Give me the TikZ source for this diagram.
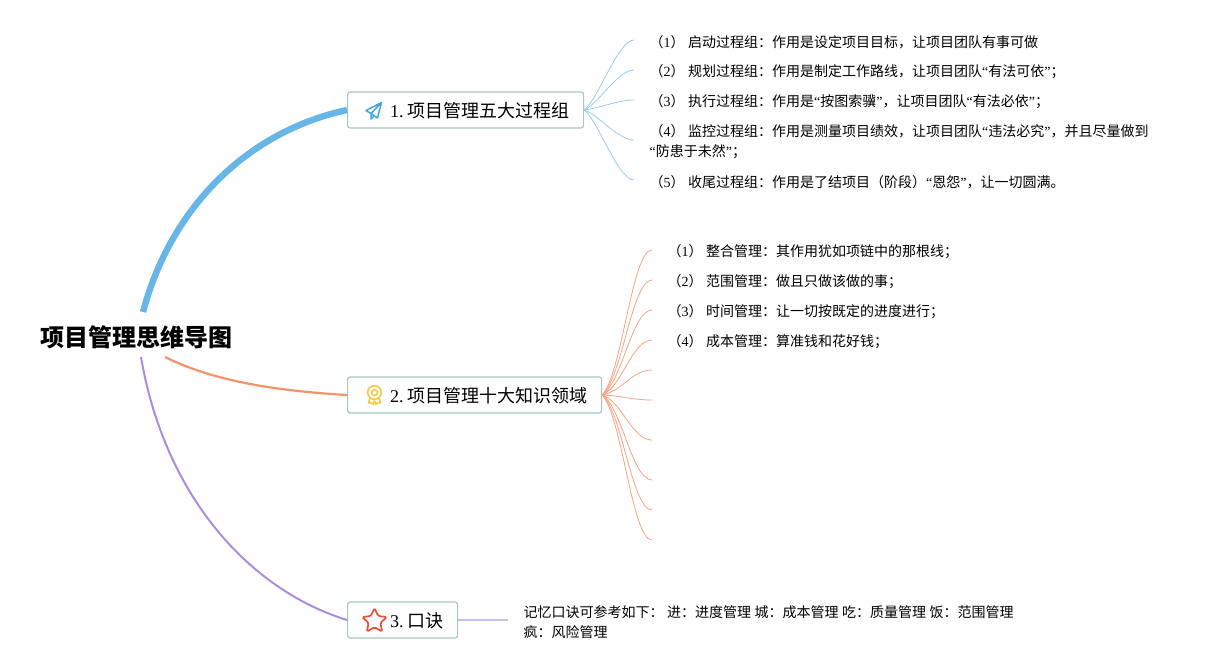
\documentclass[tikz,border=0pt]{standalone}
\usepackage{fontspec}
\setmainfont{Noto Sans CJK SC}
\newfontfamily\latfont{Liberation Serif}
\usetikzlibrary{shapes.geometric}
\newcommand{\lat}[1]{{\latfont #1}}
\newcommand{\numtag}[1]{（\lat{#1}）\hspace{3.5pt}}
\newcommand{\topictext}[2]{\hspace{28pt}\lat{#1}\hspace{3.5pt}#2}
\definecolor{boxline}{HTML}{A6C8BF}
\definecolor{lineA}{HTML}{68B5E8}
\definecolor{lineB}{HTML}{F4936A}
\definecolor{lineC}{HTML}{A98EE0}
\definecolor{thinA}{HTML}{9CCDE8}
\definecolor{thinC}{HTML}{C8BEE8}
\definecolor{iconA}{HTML}{45A5DC}
\definecolor{iconB}{HTML}{F6C945}
\definecolor{iconC}{HTML}{E8503A}
\tikzset{
  topicbox/.style={draw=boxline, line width=1.2pt, rounded corners=2.5pt, anchor=west,
    minimum height=36pt, inner xsep=14.5pt, inner ysep=0pt, text height=15pt, text depth=1pt,
    font=\fontsize{18}{20}\selectfont},
  itemtext/.style={anchor=west, inner sep=0pt, align=left,
    font=\fontsize{14}{20}\selectfont},
}
\begin{document}
\begin{tikzpicture}[x=1pt, y=-1pt, line cap=butt]
\useasboundingbox (0,0) rectangle (1209,670);
% 中心主题
\node[inner sep=0pt, font=\fontsize{24}{26}\selectfont\bfseries] (root) at (136.5,337) {项目管理思维导图};
\coordinate (rootA) at (143,312);
\coordinate (rootB) at (165,357);
\coordinate (rootC) at (141,357);
% 分支
\node[topicbox] (boxA) at (347,110) {\topictext{1.}{项目管理五大过程组}};
\node[topicbox] (boxB) at (347,395) {\topictext{2.}{项目管理十大知识领域}};
\node[topicbox] (boxC) at (347,620) {\topictext{3.}{口诀}};
% 主干
\draw[lineA, line width=6.4pt] (rootA) .. controls (170,210) and (245,132) .. (boxA.west);
\draw[lineB, line width=2.2pt] (rootB) .. controls (215,382) and (280,391) .. (boxB.west);
\draw[lineC, line width=2pt] (rootC) .. controls (165,497) and (250,590) .. (boxC.west);
% 细枝
\foreach \y [count=\i] in {40,70,100,140,180} {
  \pgfmathsetmacro\dy{0.15*(\y-110)}
  \coordinate (endA\i) at (634,\y);
  \draw[thinA, line width=0.8pt] (boxA.east) .. controls +(14,\dy) and +(-16,0) .. (endA\i);
}
\foreach \y [count=\i] in {250,280,310,340,370,400,440,480,510,540} {
  \pgfmathsetmacro\dy{0.15*(\y-395)}
  \coordinate (endB\i) at (652,\y);
  \draw[lineB!85, line width=0.8pt] (boxB.east) .. controls +(20,\dy) and +(-20,0) .. (endB\i);
}
\coordinate (endC) at (508,620);
\draw[thinC, line width=1.5pt] (boxC.east) -- (endC);
% 图标
\draw[iconA, line width=1.5pt, line join=round] (381.5,102.5) -- (366,110.5) -- (371,113.5) -- (381.5,102.5) -- (377.5,118) -- (371,113.5) -- (371,119) -- (374.5,115.5);
\draw[iconB, line width=1.6pt] (374.5,392.5) circle (6.8) (374.5,392.5) circle (3);
\draw[iconB, line width=1.6pt, line join=round] (370,398) -- (368.5,403) -- (371,402.5) -- (373,404.5) -- (374.5,400.5)
  (379,398) -- (380.5,403) -- (378,402.5) -- (376,404.5) -- (374.5,400.5);
\node[star, star points=5, star point ratio=2.1, draw=iconC, line width=1.7pt, rounded corners=1.5pt, inner sep=0pt, minimum size=26pt] (starC) at (374.5,621) {};
% 条目
\node[itemtext] (a1) at (649.5,42) {\numtag{1}启动过程组：作用是设定项目目标，让项目团队有事可做};
\node[itemtext] (a2) at (649.5,72) {\numtag{2}规划过程组：作用是制定工作路线，让项目团队\lat{“}有法可依\lat{”}；};
\node[itemtext] (a3) at (649.5,102) {\numtag{3}执行过程组：作用是\lat{“}按图索骥\lat{”}，让项目团队\lat{“}有法必依\lat{”}；};
\node[itemtext] (a4) at (649.5,142) {\numtag{4}监控过程组：作用是测量项目绩效，让项目团队\lat{“}违法必究\lat{”}，并且尽量做到\\\lat{“}防患于未然\lat{”}；};
\node[itemtext] (a5) at (649.5,182) {\numtag{5}收尾过程组：作用是了结项目（阶段）\lat{“}恩怨\lat{”}，让一切圆满。};
\node[itemtext] (b1) at (667.5,252) {\numtag{1}整合管理：其作用犹如项链中的那根线；};
\node[itemtext] (b2) at (667.5,282) {\numtag{2}范围管理：做且只做该做的事；};
\node[itemtext] (b3) at (667.5,312) {\numtag{3}时间管理：让一切按既定的进度进行；};
\node[itemtext] (b4) at (667.5,342) {\numtag{4}成本管理：算准钱和花好钱；};
\node[itemtext] (c1) at (523.5,622) {记忆口诀可参考如下：\hspace{3.5pt}进：进度管理\hspace{3.5pt}城：成本管理\hspace{3.5pt}吃：质量管理\hspace{3.5pt}饭：范围管理\\疯：风险管理};
\end{tikzpicture}
\end{document}
